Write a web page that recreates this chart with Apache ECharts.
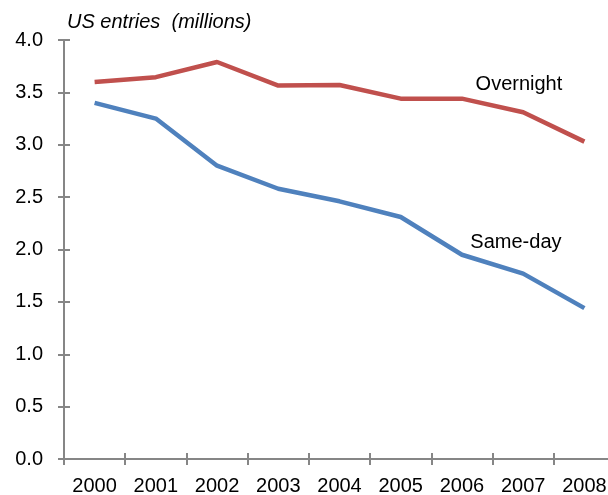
<!DOCTYPE html>
<html>
<head>
<meta charset="utf-8">
<script src="https://cdn.jsdelivr.net/npm/echarts@6/dist/echarts.min.js"></script>
<style>
  html, body { margin: 0; padding: 0; background: #fff; }
  #chart { width: 608px; height: 495px; }
</style>
</head>
<body>
<div id="chart"></div>
<script>
// US entries by year, millions
const years = ['2000', '2001', '2002', '2003', '2004', '2005', '2006', '2007', '2008'];
const overnight = [3.60, 3.645, 3.79, 3.565, 3.57, 3.44, 3.44, 3.31, 3.03];
const sameDay = [3.40, 3.25, 2.80, 2.58, 2.46, 2.31, 1.95, 1.77, 1.44];
const yTicks = [0, 0.5, 1.0, 1.5, 2.0, 2.5, 3.0, 3.5, 4.0];

const FONT = '"Liberation Sans", Arial, sans-serif';
const FS = 20;
const AXIS_GRAY = '#868686';

// put a series-name label on one point only
function withLabel(values, idx, offset, name) {
  return values.map((v, i) => i === idx ? {
    value: v,
    label: {
      show: true, position: 'inside', offset: offset,
      formatter: name, color: '#000', fontSize: FS, fontFamily: FONT
    }
  } : v);
}

const chart = echarts.init(document.getElementById('chart'), null, { renderer: 'canvas' });

const baseX = {
  type: 'category', data: years, boundaryGap: true,
  axisLine: { lineStyle: { color: AXIS_GRAY, width: 2 } },
  splitLine: { show: false }
};
const baseY = {
  type: 'value', min: yTicks[0], max: yTicks[yTicks.length - 1], interval: 0.5,
  axisLine: { show: true, lineStyle: { color: AXIS_GRAY, width: 2 } },
  splitLine: { show: false }
};

chart.setOption({
  animation: false,
  backgroundColor: '#fff',
  // the plot runs slightly past the right edge of the canvas
  grid: {
    left: 64, top: 40, bottom: 36, width: 551,
    containLabel: false, outerBoundsMode: 'none'
  },
  graphic: [{
    type: 'text', left: 67, top: 12,
    style: {
      text: 'US entries  (millions)', fontSize: FS, fontStyle: 'italic',
      fontFamily: FONT, fill: '#000'
    }
  }],
  xAxis: [
    Object.assign({}, baseX, {
      axisTick: { show: true, inside: false, length: 6, lineStyle: { color: AXIS_GRAY, width: 2 } },
      axisLabel: { color: '#000', fontSize: FS, fontFamily: FONT, margin: 17, interval: 0 }
    }),
    Object.assign({}, baseX, {
      position: 'bottom',
      axisTick: { show: true, inside: true, length: 6, lineStyle: { color: AXIS_GRAY, width: 2 } },
      axisLabel: { show: false }
    })
  ],
  yAxis: [
    Object.assign({}, baseY, {
      axisTick: { show: true, inside: false, length: 6, lineStyle: { color: AXIS_GRAY, width: 2 } },
      axisLabel: {
        color: '#000', fontSize: FS, fontFamily: FONT, margin: 21,
        formatter: v => v.toFixed(1)
      }
    }),
    Object.assign({}, baseY, {
      position: 'left',
      axisTick: { show: true, inside: true, length: 6, lineStyle: { color: AXIS_GRAY, width: 2 } },
      axisLabel: { show: false }
    })
  ],
  series: [
    {
      name: 'Overnight', type: 'line',
      data: withLabel(overnight, 6, [57, -14], 'Overnight'),
      symbol: 'circle', symbolSize: 0, showSymbol: true,
      lineStyle: { color: '#C0504D', width: 4.5 },
      itemStyle: { color: '#C0504D' },
      z: 3
    },
    {
      name: 'Same-day', type: 'line',
      data: withLabel(sameDay, 6, [54, -12], 'Same-day'),
      symbol: 'circle', symbolSize: 0, showSymbol: true,
      lineStyle: { color: '#4F81BD', width: 4.5 },
      itemStyle: { color: '#4F81BD' },
      z: 3
    }
  ]
});
</script>
</body>
</html>
